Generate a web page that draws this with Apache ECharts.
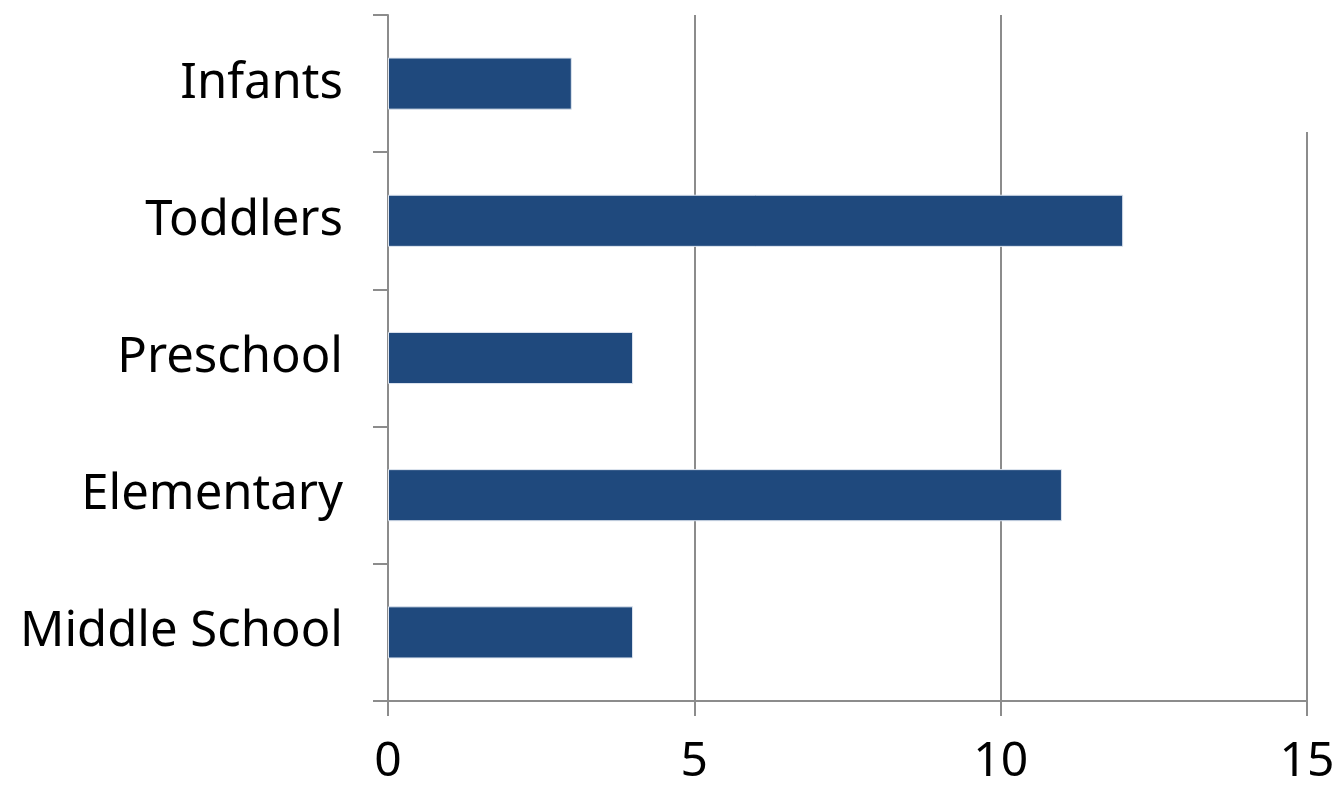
<!DOCTYPE html>
<html><head><meta charset="utf-8">
<script src="https://cdn.jsdelivr.net/npm/echarts@6/dist/echarts.min.js"></script>
<style>html,body{margin:0;padding:0;background:#fff}#c{width:1338px;height:785px}</style>
</head><body><div id="c"></div>
<script>
const categories = ['Infants', 'Toddlers', 'Preschool', 'Elementary', 'Middle School'];
const values = [3, 12, 4, 11, 4];
const FONT = "'Noto Sans', sans-serif";
const GRID = '#8c8c8c';
const chart = echarts.init(document.getElementById('c'), null, {renderer: 'canvas'});
chart.setOption({
  animation: false,
  grid: {left: 388, right: 31, top: 15, bottom: 84, containLabel: false, outerBoundsMode: 'none'},
  xAxis: {
    type: 'value', min: 0, max: 15, interval: 5,
    axisLine: {show: true, lineStyle: {color: GRID, width: 2}},
    axisTick: {show: true, length: 15, lineStyle: {color: GRID, width: 2}},
    axisLabel: {color: '#000', fontSize: 48, fontFamily: FONT, margin: 37},
    splitLine: {show: true, lineStyle: {color: GRID, width: 2}}
  },
  yAxis: {
    type: 'category', data: categories, inverse: true,
    axisLine: {show: true, lineStyle: {color: GRID, width: 2}},
    axisTick: {show: true, length: 15, lineStyle: {color: GRID, width: 2}},
    axisLabel: {color: '#000', fontSize: 49, fontFamily: FONT, margin: 45}
  },
  graphic: [{
    type: 'rect', right: 24, top: 0, z: 100,
    shape: {width: 16, height: 132},
    style: {fill: '#fff'}
  }],
  series: [{
    type: 'bar', data: values, barCategoryGap: '62%',
    itemStyle: {color: '#1f497d', borderColor: '#dfe6f0', borderWidth: 1}
  }]
});
</script></body></html>
